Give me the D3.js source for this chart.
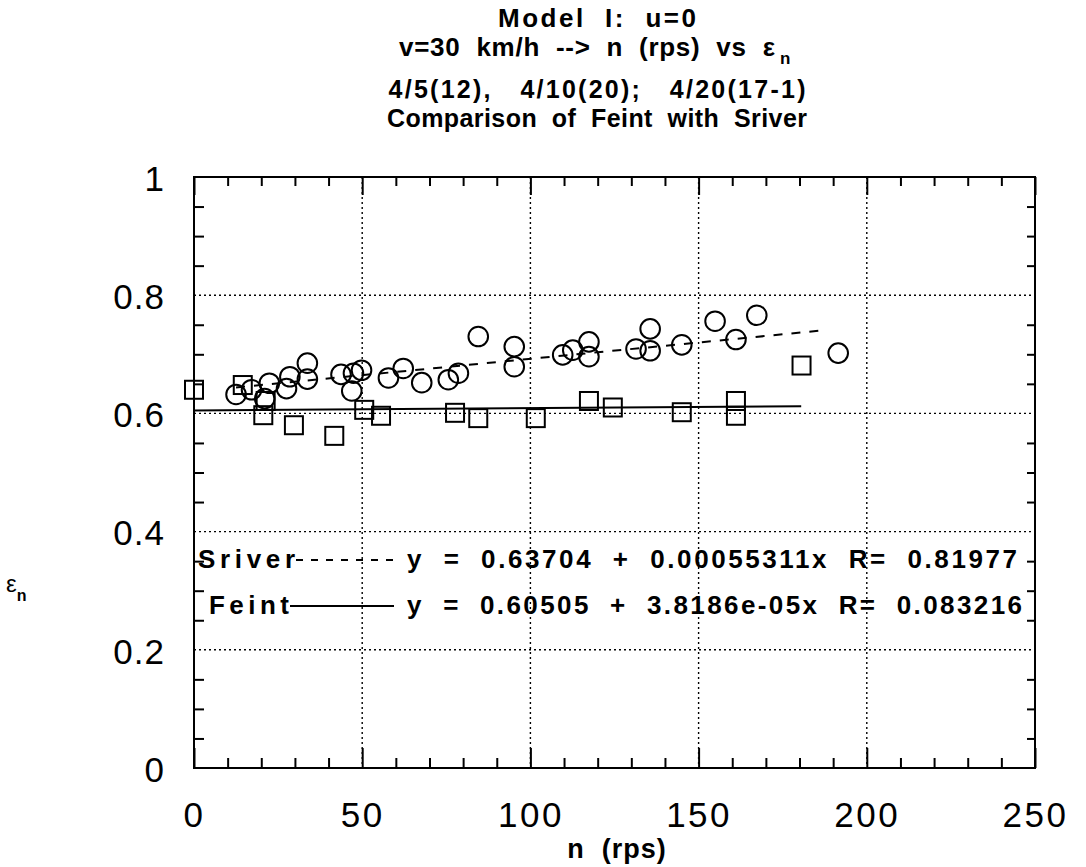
<!DOCTYPE html>
<html><head><meta charset="utf-8">
<script src="https://cdn.jsdelivr.net/npm/d3@7"></script>
<style>
body{margin:0;background:#fff;}
svg{display:block;font-family:"Liberation Sans",Arial,Helvetica,sans-serif;}
</style></head>
<body>
<svg id="chart" width="1086" height="867"></svg>
<script>
// ---- data ----
const titleLines = ["Model  I:  u=0", "v=30  km/h  -->  n  (rps)  vs  ε", "4/5(12),   4/10(20);   4/20(17-1)", "Comparison  of  Feint  with  Sriver"];
const xLabel = "n  (rps)";
const xTicksMajor = [0, 50, 100, 150, 200, 250];
const yTicksMajor = [0, 0.2, 0.4, 0.6, 0.8, 1];
const sriverN = [12.5, 17.1, 21.0, 22.4, 27.5, 28.5, 33.7, 33.7, 43.7, 46.9, 47.4, 49.8, 57.8, 62.2, 67.7, 75.6, 78.6, 84.5, 95.2, 95.2, 109.6, 112.6, 117.4, 117.4, 131.4, 135.6, 135.6, 145.0, 154.9, 161.1, 167.3, 191.5];
const sriverE = [0.632, 0.640, 0.625, 0.651, 0.642, 0.662, 0.685, 0.658, 0.666, 0.638, 0.668, 0.673, 0.660, 0.676, 0.652, 0.657, 0.668, 0.730, 0.713, 0.679, 0.699, 0.707, 0.721, 0.696, 0.709, 0.743, 0.706, 0.716, 0.756, 0.725, 0.766, 0.702];
const feintN = [0, 14.5, 21.3, 20.6, 29.7, 41.7, 50.6, 55.6, 77.6, 84.5, 101.6, 117.4, 124.5, 145.0, 161.1, 161.1, 180.6];
const feintE = [0.640, 0.648, 0.621, 0.597, 0.580, 0.562, 0.606, 0.596, 0.601, 0.592, 0.592, 0.621, 0.610, 0.602, 0.621, 0.596, 0.681];
const fitNames = ["Sriver", "Feint"];
const fitIntercept = [0.63704, 0.60505];
const fitSlope = [0.00055311, 3.8186e-05];
const fitRange = [[12.5, 188], [0, 180.5]];
const fitText = ["y  =  0.63704  +  0.00055311x  R=  0.81977", "y  =  0.60505  +  3.8186e-05x  R=  0.083216"];

// ---- layout ----
const L = 194, R = 1035, T = 177, B = 768;
const svg = d3.select("#chart");
const x = d3.scaleLinear().domain([0, 250]).range([L, R]);
const y = d3.scaleLinear().domain([0, 1]).range([B, T]);

// grid
const grid = svg.append("g").attr("stroke", "#000").attr("stroke-width", 1.4).attr("stroke-dasharray", "2,3");
grid.selectAll("line.v").data(xTicksMajor.slice(1, -1)).join("line")
  .attr("x1", d => x(d)).attr("x2", d => x(d)).attr("y1", T).attr("y2", B);
grid.selectAll("line.h").data(yTicksMajor.slice(1, -1)).join("line")
  .attr("x1", L).attr("x2", R).attr("y1", d => y(d)).attr("y2", d => y(d));

// minor ticks
const xMinor = d3.range(0, 251, 10).filter(v => v % 50 !== 0);
const yMinor = d3.range(0, 21).map(i => i * 0.05).filter((v, i) => i % 4 !== 0);
function styleAxis(g){ g.select(".domain").remove(); g.selectAll("line").attr("stroke","#000").attr("stroke-width",2); }
svg.append("g").attr("transform", `translate(0,${B})`).call(d3.axisBottom(x).tickValues(xMinor).tickSize(-10).tickFormat("")).call(styleAxis);
svg.append("g").attr("transform", `translate(0,${T})`).call(d3.axisTop(x).tickValues(xMinor).tickSize(-9).tickFormat("")).call(styleAxis);
svg.append("g").attr("transform", `translate(0,${T})`).call(d3.axisTop(x).tickValues(xTicksMajor).tickSize(-18).tickFormat("")).call(styleAxis);
svg.append("g").attr("transform", `translate(${L},0)`).call(d3.axisLeft(y).tickValues(yMinor).tickSize(-10).tickFormat("")).call(styleAxis);
svg.append("g").attr("transform", `translate(${R},0)`).call(d3.axisRight(y).tickValues(yMinor).tickSize(-8).tickFormat("")).call(styleAxis);

// major x axis with labels
const xAx = svg.append("g").attr("transform", `translate(0,${B})`)
  .call(d3.axisBottom(x).tickValues(xTicksMajor).tickSize(-20).tickPadding(34).tickFormat(d3.format("d"))).call(styleAxis);
xAx.selectAll("text").attr("font-size", 35).attr("fill", "#000").attr("letter-spacing", 2.5).attr("font-family", "Liberation Sans, Arial, sans-serif");
const yAx = svg.append("g").attr("transform", `translate(${L},0)`)
  .call(d3.axisLeft(y).tickValues(yTicksMajor).tickSize(0).tickPadding(29).tickFormat(d => d === 0 ? "0" : d === 1 ? "1" : d.toFixed(1))).call(styleAxis);
yAx.selectAll("text").attr("font-size", 35).attr("fill", "#000").attr("letter-spacing", 1).attr("font-family", "Liberation Sans, Arial, sans-serif").attr("dy", "0.38em");

// frame
svg.append("rect").attr("x", L).attr("y", T).attr("width", R - L).attr("height", B - T)
  .attr("fill", "none").attr("stroke", "#000").attr("stroke-width", 2);

// fitted lines
const fitG = svg.append("g").attr("fill", "none").attr("stroke", "#000");
fitNames.forEach((nm, i) => {
  const pts = fitRange[i].map(n => [x(n), y(fitIntercept[i] + fitSlope[i] * n)]);
  fitG.append("path").attr("d", d3.line()(pts)).attr("stroke-width", 2)
    .attr("stroke-dasharray", i === 0 ? "9,9" : null);
});

// points
const ptG = svg.append("g").attr("fill", "none").attr("stroke", "#000").attr("stroke-width", 2);
ptG.selectAll("circle").data(d3.zip(sriverN, sriverE)).join("circle")
  .attr("cx", d => x(d[0])).attr("cy", d => y(d[1])).attr("r", 9.8);
const sq = 18;
ptG.selectAll("rect").data(d3.zip(feintN, feintE)).join("rect")
  .attr("x", d => x(d[0]) - sq / 2).attr("y", d => y(d[1]) - sq / 2).attr("width", sq).attr("height", sq);

// legend / fit labels
const leg = [
  {nameX: 198, nameW: 97, base: 568, lineX: [296, 401], lineY: 560, dash: "7,8", eqX: 407, eqW: 610},
  {nameX: 209, nameW: 80, base: 614, lineX: [290, 394], lineY: 606, dash: null, eqX: 407, eqW: 615}
];
leg.forEach((l, i) => {
  svg.append("text").attr("x", l.nameX).attr("y", l.base).text(fitNames[i])
    .attr("font-size", 26).attr("font-weight", "bold").attr("textLength", l.nameW).attr("lengthAdjust", "spacing");
  svg.append("line").attr("x1", l.lineX[0]).attr("x2", l.lineX[1]).attr("y1", l.lineY).attr("y2", l.lineY)
    .attr("stroke", "#000").attr("stroke-width", 1.8).attr("stroke-dasharray", l.dash);
  svg.append("text").attr("x", l.eqX).attr("y", l.base).text(fitText[i]).attr("xml:space", "preserve")
    .style("white-space", "pre")
    .attr("font-size", 26).attr("font-weight", "bold").attr("textLength", l.eqW).attr("lengthAdjust", "spacing");
});

// title
const tcx = 597;
const tBase = [27, 56, 98, 127];
const tW = [198, 376, 417, 420];
const tSize = [26, 26, 25, 25];
titleLines.forEach((t, i) => {
  const off = i === 1 ? 10 : 0;
  svg.append("text").attr("x", tcx - tW[i] / 2 - off).attr("y", tBase[i]).attr("font-size", tSize[i]).attr("font-weight", "bold")
    .style("white-space", "pre").text(t).attr("textLength", tW[i]).attr("lengthAdjust", "spacing");
  if (i === 1) {
    svg.append("text").attr("x", tcx - tW[i] / 2 - off + tW[i] + 5).attr("y", tBase[i] + 8)
      .attr("font-size", 17).attr("font-weight", "bold").text("n");
  }
});

// axis titles
svg.append("text").attr("x", 617).attr("y", 858).attr("text-anchor", "middle").attr("font-size", 27)
  .attr("font-weight", "bold").style("white-space", "pre").attr("letter-spacing", 1).text(xLabel);
const yl = svg.append("text").attr("x", 6).attr("y", 592).attr("font-size", 24);
yl.append("tspan").text("ε");
yl.append("tspan").attr("dy", 9).attr("font-size", 16).attr("font-weight", "bold").text("n");
</script>
</body></html>
